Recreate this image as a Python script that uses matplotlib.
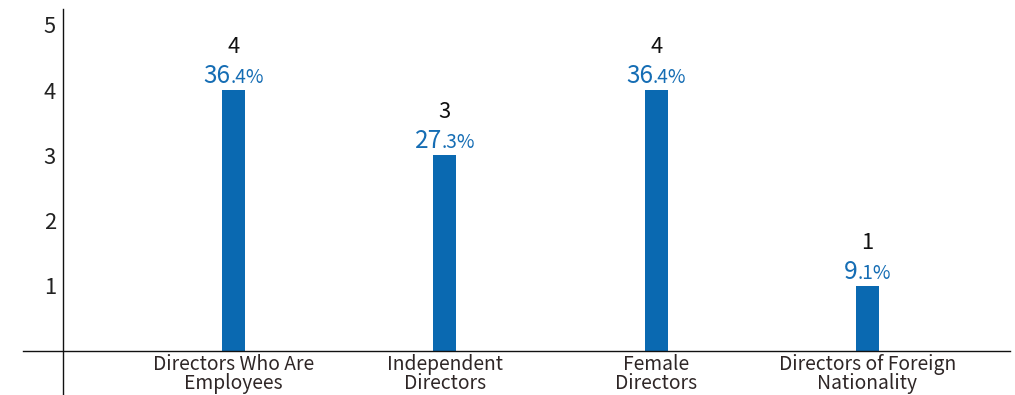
import matplotlib
matplotlib.use("Agg")
import matplotlib.pyplot as plt

plt.rcParams["font.family"] = ["Noto Sans CJK JP", "DejaVu Sans"]

categories = [
    "Directors Who Are\nEmployees",
    "Independent\nDirectors",
    "Female\nDirectors",
    "Directors of Foreign\nNationality",
]
counts = [4, 3, 4, 1]
pct_whole = ["36", "27", "36", "9"]
pct_frac = [".4%", ".3%", ".4%", ".1%"]
yticks = [1, 2, 3, 4, 5]

bar_color = "#0a69b1"
pct_color = "#156db4"
label_color = "#2e2626"

fig = plt.figure(figsize=(10.15, 3.95), dpi=100)
ax = fig.add_axes([63 / 1015, 0, (1010 - 63) / 1015, 1 - 9 / 395])

x = list(range(len(categories)))
ax.bar(x, counts, width=0.109, color=bar_color, zorder=2)

ax.set_xlim(-0.808, 3.675)
ax.set_ylim(-0.669, 5.24)

for s in ["top", "right", "bottom"]:
    ax.spines[s].set_visible(False)
ax.spines["left"].set_color("#111111")
ax.spines["left"].set_linewidth(1.0)

# baseline reaches a bit left of the vertical axis
ax.axhline(0, xmin=-40 / (1010 - 63), xmax=1, color="#111111", lw=1.0,
           clip_on=False, zorder=3)

ax.set_yticks(yticks)
ax.set_yticklabels([str(t) for t in yticks], fontsize=15.8, color="#222222")
ax.tick_params(axis="y", length=0, pad=5)

ax.set_xticks([])
for xi, cat in zip(x, categories):
    ax.annotate(cat, (xi, 0), xytext=(0, -3), textcoords="offset pixels",
                ha="center", va="top", fontsize=13.9, color=label_color,
                linespacing=0.88)

fig.canvas.draw()
renderer = fig.canvas.get_renderer()

for xi, c, whole, frac in zip(x, counts, pct_whole, pct_frac):
    ax.annotate(str(c), (xi, c), xytext=(0, 37), textcoords="offset pixels",
                ha="center", va="baseline", fontsize=15.8, color="#111111")
    big = ax.annotate(whole, (xi, c), xytext=(0, 7), textcoords="offset pixels",
                      ha="right", va="baseline", fontsize=17.6, color=pct_color)
    small = ax.annotate(frac, (xi, c), xytext=(0, 7), textcoords="offset pixels",
                        ha="left", va="baseline", fontsize=13.8, color=pct_color)
    wb = big.get_window_extent(renderer).width
    ws = small.get_window_extent(renderer).width
    dx = (wb - ws) / 2
    big.xyann = (dx, 7)
    small.xyann = (dx, 7)

fig.savefig("out.png", dpi=100)
